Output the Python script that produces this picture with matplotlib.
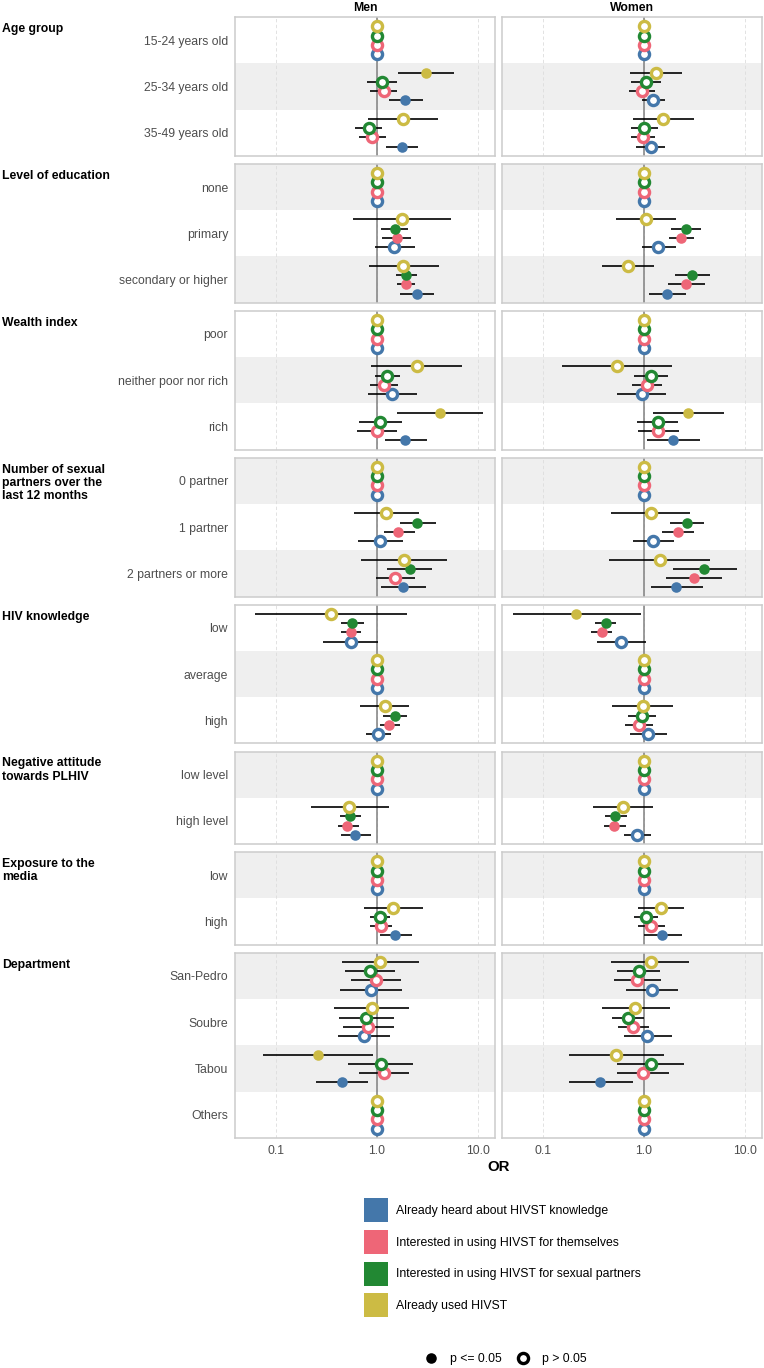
import matplotlib.pyplot as plt
from matplotlib.patches import Patch
from matplotlib.lines import Line2D

plt.rcParams['font.family'] = ['Liberation Sans', 'DejaVu Sans']

# --- data -----------------------------------------------------------------
groups = ["Age group", "Level of education", "Wealth index",
          "Number of sexual\npartners over the\nlast 12 months", "HIV knowledge",
          "Negative attitude\ntowards PLHIV", "Exposure to the\nmedia", "Department"]
levels = [["15-24 years old", "25-34 years old", "35-49 years old"],
          ["none", "primary", "secondary or higher"],
          ["poor", "neither poor nor rich", "rich"],
          ["0 partner", "1 partner", "2 partners or more"],
          ["low", "average", "high"],
          ["low level", "high level"],
          ["low", "high"],
          ["San-Pedro", "Soubre", "Tabou", "Others"]]
sexes = ["Men", "Women"]
series = ["Already heard about HIVST knowledge",
          "Interested in using HIVST for themselves",
          "Interested in using HIVST for sexual partners",
          "Already used HIVST"]
colors = ["#4477AA", "#EE6677", "#228833", "#CCBB44"]

# one row per level, columns in series order (heard, themselves, partners, used)
men_or = [[1, 1, 1, 1], [1.90, 1.17, 1.13, 3.07], [1.78, 0.885, 0.83, 1.80],
          [1, 1, 1, 1], [1.48, 1.56, 1.49, 1.76], [2.51, 1.92, 1.95, 1.82],
          [1, 1, 1, 1], [1.41, 1.17, 1.26, 2.46], [1.90, 0.99, 1.08, 4.19],
          [1, 1, 1, 1], [1.08, 1.63, 2.48, 1.24], [1.82, 1.49, 2.10, 1.86],
          [0.55, 0.55, 0.57, 0.35], [1, 1, 1, 1], [1.02, 1.32, 1.49, 1.19],
          [1, 1, 1, 1], [0.61, 0.51, 0.54, 0.53],
          [1, 1, 1, 1], [1.52, 1.09, 1.06, 1.44],
          [0.865, 0.97, 0.86, 1.07], [0.74, 0.82, 0.77, 0.885], [0.45, 1.16, 1.09, 0.258], [1, 1, 1, 1]]
men_lo = [[1, 1, 1, 1], [1.31, 0.86, 0.79, 1.63], [1.24, 0.66, 0.61, 0.81],
          [1, 1, 1, 1], [0.95, 1.13, 1.10, 0.58], [1.70, 1.58, 1.54, 0.84],
          [1, 1, 1, 1], [0.82, 0.85, 0.95, 0.875], [1.19, 0.63, 0.67, 1.58],
          [1, 1, 1, 1], [0.65, 1.16, 1.67, 0.59], [1.10, 0.97, 1.26, 0.70],
          [0.295, 0.44, 0.44, 0.062], [1, 1, 1, 1], [0.77, 1.06, 1.14, 0.685],
          [1, 1, 1, 1], [0.435, 0.41, 0.43, 0.22],
          [1, 1, 1, 1], [1.07, 0.86, 0.85, 0.75],
          [0.43, 0.55, 0.48, 0.45], [0.41, 0.46, 0.42, 0.377], [0.25, 0.66, 0.52, 0.0736], [1, 1, 1, 1]]
men_hi = [[1, 1, 1, 1], [2.84, 1.59, 1.59, 5.84], [2.54, 1.24, 1.13, 4.05],
          [1, 1, 1, 1], [2.35, 2.15, 2.03, 5.41], [3.70, 2.40, 2.51, 4.09],
          [1, 1, 1, 1], [2.48, 1.63, 1.70, 6.97], [3.10, 1.58, 1.76, 11.2],
          [1, 1, 1, 1], [1.82, 2.35, 3.79, 2.63], [3.07, 2.35, 3.47, 4.94],
          [1.03, 0.70, 0.75, 1.97], [1, 1, 1, 1], [1.36, 1.69, 1.99, 2.08],
          [1, 1, 1, 1], [0.875, 0.66, 0.70, 1.31],
          [1, 1, 1, 1], [2.22, 1.41, 1.33, 2.84],
          [1.78, 1.72, 1.52, 2.63], [1.33, 1.48, 1.46, 2.08], [0.81, 2.06, 2.27, 0.915], [1, 1, 1, 1]]
men_sig = [[0, 0, 0, 0], [1, 0, 0, 1], [1, 0, 0, 0],
           [0, 0, 0, 0], [0, 1, 1, 0], [1, 1, 1, 0],
           [0, 0, 0, 0], [0, 0, 0, 0], [1, 0, 0, 1],
           [0, 0, 0, 0], [0, 1, 1, 0], [1, 0, 1, 0],
           [0, 1, 1, 0], [0, 0, 0, 0], [0, 1, 1, 0],
           [0, 0, 0, 0], [1, 1, 1, 0],
           [0, 0, 0, 0], [1, 0, 0, 0],
           [0, 0, 0, 0], [0, 0, 0, 0], [1, 0, 0, 1], [0, 0, 0, 0]]

women_or = [[1, 1, 1, 1], [1.24, 0.95, 1.05, 1.32], [1.16, 0.97, 1.01, 1.54],
            [1, 1, 1, 1], [1.38, 2.32, 2.60, 1.05], [1.70, 2.63, 2.97, 0.69],
            [1, 1, 1, 1], [0.95, 1.06, 1.18, 0.54], [1.95, 1.38, 1.36, 2.75],
            [1, 1, 1, 1], [1.24, 2.15, 2.66, 1.16], [2.08, 3.10, 3.96, 1.43],
            [0.59, 0.38, 0.416, 0.214], [1, 1, 1, 1], [1.09, 0.885, 0.96, 0.97],
            [1, 1, 1, 1], [0.85, 0.51, 0.52, 0.62],
            [1, 1, 1, 1], [1.52, 1.17, 1.05, 1.46],
            [1.19, 0.85, 0.885, 1.16], [1.07, 0.78, 0.70, 0.82], [0.37, 0.98, 1.16, 0.53], [1, 1, 1, 1]]
women_lo = [[1, 1, 1, 1], [0.95, 0.71, 0.75, 0.73], [0.83, 0.74, 0.74, 0.77],
            [1, 1, 1, 1], [0.95, 1.76, 1.84, 0.53], [1.12, 1.72, 2.01, 0.385],
            [1, 1, 1, 1], [0.54, 0.76, 0.80, 0.155], [1.06, 0.865, 0.86, 1.24],
            [1, 1, 1, 1], [0.77, 1.49, 1.80, 0.47], [1.16, 1.65, 1.92, 0.45],
            [0.344, 0.30, 0.33, 0.050], [1, 1, 1, 1], [0.72, 0.65, 0.70, 0.486],
            [1, 1, 1, 1], [0.63, 0.40, 0.41, 0.31],
            [1, 1, 1, 1], [1.01, 0.865, 0.80, 0.865],
            [0.66, 0.50, 0.54, 0.475], [0.63, 0.55, 0.48, 0.385], [0.18, 0.54, 0.54, 0.18], [1, 1, 1, 1]]
women_hi = [[1, 1, 1, 1], [1.63, 1.28, 1.46, 2.35], [1.63, 1.29, 1.39, 3.10],
            [1, 1, 1, 1], [2.06, 3.10, 3.70, 2.06], [2.63, 4.00, 4.47, 1.25],
            [1, 1, 1, 1], [1.65, 1.51, 1.74, 1.90], [3.54, 2.22, 2.17, 6.17],
            [1, 1, 1, 1], [1.99, 3.10, 3.96, 2.87], [3.83, 5.89, 8.32, 4.52],
            [1.045, 0.48, 0.525, 0.925], [1, 1, 1, 1], [1.69, 1.24, 1.31, 1.92],
            [1, 1, 1, 1], [1.17, 0.66, 0.68, 1.24],
            [1, 1, 1, 1], [2.35, 1.61, 1.38, 2.48],
            [2.17, 1.46, 1.44, 2.77], [1.88, 1.12, 1.01, 1.80], [0.77, 1.76, 2.51, 1.59], [1, 1, 1, 1]]
women_sig = [[0, 0, 0, 0], [0, 0, 0, 0], [0, 0, 0, 0],
             [0, 0, 0, 0], [0, 1, 1, 0], [1, 1, 1, 0],
             [0, 0, 0, 0], [0, 0, 0, 0], [1, 0, 0, 1],
             [0, 0, 0, 0], [0, 1, 1, 0], [1, 1, 1, 0],
             [0, 1, 1, 1], [0, 0, 0, 0], [0, 0, 0, 0],
             [0, 0, 0, 0], [0, 1, 1, 0],
             [0, 0, 0, 0], [1, 0, 0, 0],
             [0, 0, 0, 0], [0, 0, 0, 0], [1, 0, 0, 0], [0, 0, 0, 0]]

xticks = [0.1, 1.0, 10.0]
xticklabels = ["0.1", "1.0", "10.0"]

# --- layout (pixels) ------------------------------------------------------
W, H = 764, 1368
fig = plt.figure(figsize=(W / 100, H / 100), dpi=100)
row_h, gap, top = 46.3, 8, 17
panel_x, panel_w = [235, 502], 260
fs = 8.8
data = {"Men": (men_or, men_lo, men_hi, men_sig),
        "Women": (women_or, women_lo, women_hi, women_sig)}

row0 = 0
y_px = top
for gi, (g, lv) in enumerate(zip(groups, levels)):
    n = len(lv)
    h = n * row_h
    for si, sex in enumerate(sexes):
        ax = fig.add_axes([panel_x[si] / W, 1 - (y_px + h) / H, panel_w / W, h / H])
        ax.set_xscale('log')
        ax.set_xlim(0.0393, 14.7)
        ax.set_ylim(0.5, n + 0.5)
        for i in range(n):
            if (row0 + i) % 2 == 1:
                ax.axhspan(n - i - 0.5, n - i + 0.5, color='#EFEFEF', lw=0, zorder=0)
        for xv in xticks:
            ax.axvline(xv, color='#DDDDDD', ls=(0, (4, 3)), lw=0.6, zorder=1)
        ax.axvline(1, color='#808080', lw=1.1, zorder=2)

        orr, lo, hi, sig = data[sex]
        rows = range(row0, row0 + n)
        for k in range(4):
            ys = [n - i - 0.3 + 0.2 * k for i in range(n)]
            ax.hlines(ys, [lo[r][k] for r in rows], [hi[r][k] for r in rows],
                      color='black', lw=1.2, zorder=3)
        for k in range(4):
            c = colors[k]
            for i, r in enumerate(rows):
                y = n - i - 0.3 + 0.2 * k
                if sig[r][k]:
                    ax.plot(orr[r][k], y, 'o', ms=7.6, color=c, mec=c, mew=0, zorder=4 + k)
                else:
                    ax.plot(orr[r][k], y, 'o', ms=7.3, mfc='white', mec=c, mew=2.4, zorder=4 + k)

        for sp in ax.spines.values():
            sp.set_color('#CCCCCC')
            sp.set_linewidth(1.1)
        ax.tick_params(length=0, pad=5, labelsize=fs, labelcolor='#4D4D4D')
        ax.set_xticks(xticks)
        ax.minorticks_off()
        if gi == len(groups) - 1:
            ax.set_xticklabels(xticklabels)
        else:
            ax.set_xticklabels([])
        ax.set_yticks([n - i for i in range(n)])
        if si == 0:
            ax.set_yticklabels(lv)
        else:
            ax.set_yticklabels([])
        if gi == 0:
            ax.set_title(sex, fontweight='bold', fontsize=fs, pad=4)
    fig.text(2 / W, 1 - (y_px + 6) / H, g, va='top', ha='left',
             fontweight='bold', fontsize=fs, linespacing=1.15)
    row0 += n
    y_px += h + gap

fig.text(498.5 / W, 1 - 1167 / H, "OR", ha='center', va='center',
         fontweight='bold', fontsize=10.8)

# --- legends ----------------------------------------------------------------
handles = [Patch(facecolor=c, edgecolor='none') for c in colors]
fig.legend(handles, series, loc='upper left', bbox_to_anchor=(358 / W, 1 - 1192 / H),
           frameon=False, fontsize=fs, borderpad=0, handlelength=1.97, handleheight=2.65,
           labelspacing=0.63, handletextpad=0.65)

sig_handles = [Line2D([], [], ls='', marker='o', ms=7.6, color='black', mew=0),
               Line2D([], [], ls='', marker='o', ms=7.3, mfc='white', mec='black', mew=2.4)]
fig.legend(sig_handles, ["p <= 0.05", "p > 0.05"], loc='center left',
           bbox_to_anchor=(418 / W, 1 - 1359 / H), ncol=2, frameon=False, fontsize=fs,
           borderpad=0, handlelength=1.15, handletextpad=1.0, columnspacing=1.1)

fig.savefig("out.png", dpi=100)
